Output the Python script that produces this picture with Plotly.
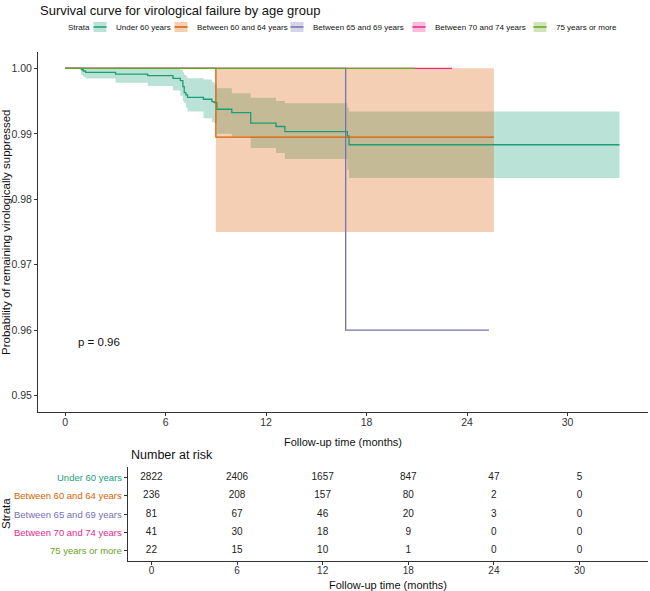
import plotly.graph_objects as go

W, H = 650, 591

# ---------------- data ----------------
strata = ["Under 60 years", "Between 60 and 64 years", "Between 65 and 69 years",
          "Between 70 and 74 years", "75 years or more"]
colors = ["#1B9E77", "#D95F02", "#7570B3", "#E7298A", "#66A61E"]
band_colors = ["rgba(27,158,119,0.3)", "rgba(217,95,2,0.3)"]

u60_time = [0, 0.96, 1.08, 1.22, 3.01, 4.93, 6.44, 6.88, 7.03, 7.11, 7.21, 7.31, 8.26,
            8.76, 8.90, 9.06, 9.95, 11.08, 12.59, 13.12, 16.85, 16.95, 33.1]
u60_surv = [1.0, 0.9998, 0.9996, 0.99939, 0.99913, 0.99888, 0.99847, 0.99812, 0.9972,
            0.99629, 0.99594, 0.99558, 0.99528, 0.99492, 0.99477, 0.99375, 0.99325,
            0.99162, 0.99112, 0.99035, 0.9897, 0.98833, 0.98833]
u60_lower = [1.0, 0.9990, 0.9987, 0.99847, 0.99781, 0.9973, 0.9966, 0.9958, 0.9950,
             0.99467, 0.9940, 0.9934, 0.99239, 0.9918, 0.99162, 0.9900, 0.9896,
             0.98782, 0.98706, 0.98615, 0.98452, 0.98326, 0.98326]
u60_upper = [1.0, 1.0, 1.0, 1.0, 1.0, 1.0, 1.0, 0.9998, 0.9994, 0.9990, 0.9988, 0.9985,
             0.9983, 0.9979, 0.9977, 0.99695, 0.99619, 0.9955, 0.9950, 0.99467, 0.9940,
             0.9934, 0.9934]

a6064_time = [0, 9.0, 25.6]
a6064_surv = [1.0, 0.9895, 0.9895]
a6064_lower = [1.0, 0.975, 0.975]
a6064_upper = [1.0, 1.0, 1.0]

a6569_time = [0, 16.75, 25.3]
a6569_surv = [1.0, 0.96, 0.96]

a7074_time = [0, 23.1]
a7074_surv = [1.0, 1.0]

a75_time = [0, 20.9]
a75_surv = [1.0, 1.0]

risk_times = [0, 6, 12, 18, 24, 30]
risk_u60 = [2822, 2406, 1657, 847, 47, 5]
risk_6064 = [236, 208, 157, 80, 2, 0]
risk_6569 = [81, 67, 46, 20, 3, 0]
risk_7074 = [41, 30, 18, 9, 0, 0]
risk_75 = [22, 15, 10, 1, 0, 0]

x_ticks = [0, 6, 12, 18, 24, 30]
y_ticks = [0.95, 0.96, 0.97, 0.98, 0.99, 1.00]
pval_text = "p = 0.96"

# ---------------- helpers ----------------
def px(x):
    return x / W

def py(y):
    return 1 - y / H

FONT = "Liberation Sans, Arial, sans-serif"
AX = "#333333"
TXT = "#111111"

fig = go.Figure()

# confidence bands
for t, lo, up, c in [(u60_time, u60_lower, u60_upper, band_colors[0]),
                     (a6064_time, a6064_lower, a6064_upper, band_colors[1])]:
    fig.add_trace(go.Scatter(x=t, y=lo, mode="lines", line=dict(width=0, shape="hv"),
                             hoverinfo="skip", showlegend=False))
    fig.add_trace(go.Scatter(x=t, y=up, mode="lines", line=dict(width=0, shape="hv"),
                             fill="tonexty", fillcolor=c, hoverinfo="skip", showlegend=False))

# survival curves
curves = [(u60_time, u60_surv), (a6064_time, a6064_surv), (a6569_time, a6569_surv),
          (a7074_time, a7074_surv), (a75_time, a75_surv)]
for (t, s), name, c in zip(curves, strata, colors):
    fig.add_trace(go.Scatter(x=t, y=s, mode="lines", name=name,
                             line=dict(color=c, width=1.3, shape="hv"), showlegend=False))

# risk table numbers
risk_rows = [risk_u60, risk_6064, risk_6569, risk_7074, risk_75]
for i, row in enumerate(risk_rows):
    fig.add_trace(go.Scatter(x=risk_times, y=[i] * len(row), mode="text",
                             text=[str(v) for v in row],
                             textfont=dict(size=10, color="#222222", family=FONT),
                             xaxis="x2", yaxis="y2", showlegend=False, cliponaxis=False,
                             hoverinfo="skip"))

xr = [-1.62, 34.8]
base_axis = dict(showline=True, linecolor=AX, linewidth=1, ticks="outside", ticklen=3,
                 tickcolor=AX, showgrid=False, zeroline=False)
xfont = dict(size=10.5, color=AX, family=FONT)

annotations = []
shapes = []

# titles
annotations.append(dict(text="Survival curve for virological failure by age group",
                        x=px(38), y=py(10), xref="paper", yref="paper", xanchor="left",
                        yanchor="middle", showarrow=False,
                        font=dict(size=13, color=TXT, family=FONT)))
annotations.append(dict(text="Follow-up time (months)", x=px(343), y=py(442), xref="paper",
                        yref="paper", xanchor="center", yanchor="middle", showarrow=False,
                        font=dict(size=11, color=TXT, family=FONT)))
annotations.append(dict(text="Probability of remaining virologically suppressed",
                        x=px(6), y=py(233), xref="paper", yref="paper", textangle=-90,
                        xanchor="center", yanchor="middle", showarrow=False,
                        font=dict(size=11.5, color=TXT, family=FONT)))
annotations.append(dict(text=pval_text, x=0.66, y=0.9582, xref="x", yref="y",
                        xanchor="left", yanchor="middle", showarrow=False,
                        font=dict(size=11.5, color=TXT, family=FONT)))
annotations.append(dict(text="Number at risk", x=px(129), y=py(455), xref="paper",
                        yref="paper", xanchor="left", yanchor="middle", showarrow=False,
                        font=dict(size=12.5, color=TXT, family=FONT)))
annotations.append(dict(text="Follow-up time (months)", x=px(388), y=py(584.5), xref="paper",
                        yref="paper", xanchor="center", yanchor="middle", showarrow=False,
                        font=dict(size=11, color=TXT, family=FONT)))
annotations.append(dict(text="Strata", x=px(6), y=py(514), xref="paper", yref="paper",
                        textangle=-90, xanchor="center", yanchor="middle", showarrow=False,
                        font=dict(size=11.5, color=TXT, family=FONT)))

# strata labels of the risk table
for i, (name, c) in enumerate(zip(strata, colors)):
    annotations.append(dict(text=name, x=px(124), y=i, xref="paper", yref="y2",
                            xanchor="right", yanchor="middle", showarrow=False,
                            font=dict(size=9.5, color=c, family=FONT)))

# legend (manual)
annotations.append(dict(text="Strata", x=px(66), y=py(27), xref="paper", yref="paper",
                        xanchor="left", yanchor="middle", showarrow=False,
                        font=dict(size=8, color=TXT, family=FONT)))
key_centers = [100, 181, 297, 419, 540]
fills = ["rgba(27,158,119,0.3)", "rgba(217,95,2,0.3)", "rgba(117,112,179,0.3)",
         "rgba(231,41,138,0.3)", "rgba(102,166,30,0.3)"]
for xc, name, c, f in zip(key_centers, strata, colors, fills):
    shapes.append(dict(type="rect", xref="paper", yref="paper", x0=px(xc - 6.5), x1=px(xc + 6.5),
                       y0=py(32), y1=py(22), fillcolor=f, line=dict(width=0), layer="above"))
    shapes.append(dict(type="line", xref="paper", yref="paper", x0=px(xc - 6.5), x1=px(xc + 6.5),
                       y0=py(27), y1=py(27), line=dict(color=c, width=1.5), layer="above"))
    annotations.append(dict(text=name, x=px(xc + 14), y=py(27), xref="paper", yref="paper",
                            xanchor="left", yanchor="middle", showarrow=False,
                            font=dict(size=8, color=TXT, family=FONT)))

fig.update_layout(
    width=W, height=H, margin=dict(l=0, r=0, t=0, b=0),
    paper_bgcolor="white", plot_bgcolor="white", showlegend=False,
    font=dict(family=FONT),
    xaxis=dict(domain=[px(38), px(648)], range=xr, tickvals=x_ticks, anchor="y",
               tickfont=xfont, ticklabelstandoff=-3, **base_axis),
    yaxis=dict(domain=[py(412), py(52)], range=[0.9475, 1.0025], tickvals=y_ticks,
               tickformat=".2f", anchor="x", tickfont=xfont, **base_axis),
    xaxis2=dict(domain=[px(128.3), px(648)], range=xr, tickvals=x_ticks, anchor="y2",
                tickfont=dict(size=10, color=AX, family=FONT), ticklabelstandoff=-3,
                **base_axis),
    yaxis2=dict(domain=[py(561), py(467)], range=[4.6, -0.6], tickvals=[0, 1, 2, 3, 4],
                showticklabels=False, anchor="x2", **base_axis),
    annotations=annotations, shapes=shapes,
)

fig.write_html("out.html")
